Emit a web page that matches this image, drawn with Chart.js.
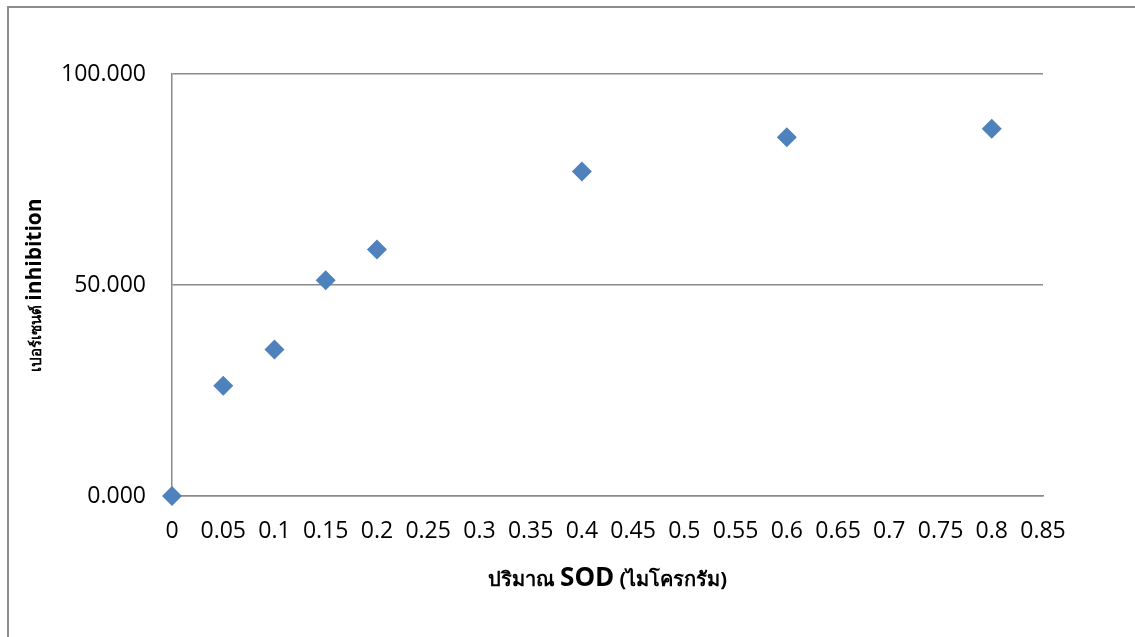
<!DOCTYPE html>
<html>
<head>
<meta charset="utf-8">
<script src="https://cdn.jsdelivr.net/npm/chart.js@4/dist/chart.umd.min.js"></script>
<style>
  html, body { margin: 0; padding: 0; background: #fff; overflow: hidden; }
  #wrap { position: relative; width: 1135px; height: 637px; }
  #frame { position: absolute; left: 7px; top: 6px; width: 2000px; height: 2000px; border: 2px solid #8c8c8c; }
  #myChart { position: absolute; left: 0; top: 0; }
</style>
</head>
<body>
<div id="wrap">
  <div id="frame"></div>
  <canvas id="myChart" width="1135" height="637"></canvas>
</div>
<script>
// SOD amount (micrograms) vs percent inhibition
var sodAmount = [0, 0.05, 0.1, 0.15, 0.2, 0.4, 0.6, 0.8];
var inhibition = [0, 26.1, 34.7, 51.1, 58.4, 76.9, 85.0, 87.0];

var xTitleParts = [
  { text: 'ปริมาณ ', size: 20 },
  { text: 'SOD', size: 26 },
  { text: ' (ไมโครกรัม)', size: 20 }
];
var yTitleParts = [
  { text: 'เปอร์เซนต์ ', size: 15 },
  { text: 'inhibition', size: 21 }
];

var baseFont = "'Open Sans', 'Noto Sans', sans-serif";

function drawParts(ctx, parts, x, y, rot) {
  ctx.save();
  ctx.translate(x, y);
  ctx.rotate(rot);
  ctx.fillStyle = '#000';
  ctx.textBaseline = 'alphabetic';
  ctx.textAlign = 'left';
  var total = 0;
  parts.forEach(function (p) {
    ctx.font = 'bold ' + p.size + 'px ' + baseFont;
    p.w = ctx.measureText(p.text).width;
    total += p.w;
  });
  var cx = -total / 2;
  parts.forEach(function (p) {
    ctx.font = 'bold ' + p.size + 'px ' + baseFont;
    ctx.fillText(p.text, cx, 0);
    cx += p.w;
  });
  ctx.restore();
}

var axisTitles = {
  id: 'axisTitles',
  afterDraw: function (chart) {
    var a = chart.chartArea;
    drawParts(chart.ctx, xTitleParts, (a.left + a.right) / 2, 586, 0);
    drawParts(chart.ctx, yTitleParts, 41, (a.top + a.bottom) / 2, -Math.PI / 2);
  }
};

var points = sodAmount.map(function (v, i) { return { x: v, y: inhibition[i] }; });

var ctx = document.getElementById('myChart').getContext('2d');
var myChart = new Chart(ctx, {
  type: 'scatter',
  data: {
    datasets: [{
      data: points,
      label: 'inhibition',
      pointStyle: 'rectRot',
      pointRadius: 10,
      pointHoverRadius: 10,
      borderWidth: 0,
      backgroundColor: '#4f81bd',
      borderColor: '#4f81bd',
      clip: false
    }]
  },
  plugins: [axisTitles],
  options: {
    responsive: false,
    animation: false,
    layout: { padding: { top: 74, right: 92, left: 0, bottom: 0 } },
    plugins: {
      legend: { display: false },
      tooltip: { enabled: false }
    },
    scales: {
      x: {
        type: 'linear',
        min: 0,
        max: 0.85,
        afterFit: function (s) { s.height = 141; },
        grid: { display: false, drawTicks: false },
        border: { display: true, color: '#8a8a8a', width: 1.5 },
        ticks: {
          stepSize: 0.05,
          padding: 22,
          color: '#000',
          font: { family: baseFont, size: 23 },
          maxRotation: 0,
          autoSkip: false,
          callback: function (v) { return String(+v.toFixed(2)); }
        }
      },
      y: {
        min: 0,
        max: 100,
        afterFit: function (s) { s.width = 172; },
        grid: { color: '#8a8a8a', lineWidth: 1.5, drawTicks: false },
        border: { display: true, color: '#8a8a8a', width: 1.5 },
        ticks: {
          stepSize: 50,
          padding: 26,
          color: '#000',
          font: { family: baseFont, size: 23 },
          callback: function (v) { return v.toFixed(3); }
        }
      }
    }
  }
});
</script>
</body>
</html>
